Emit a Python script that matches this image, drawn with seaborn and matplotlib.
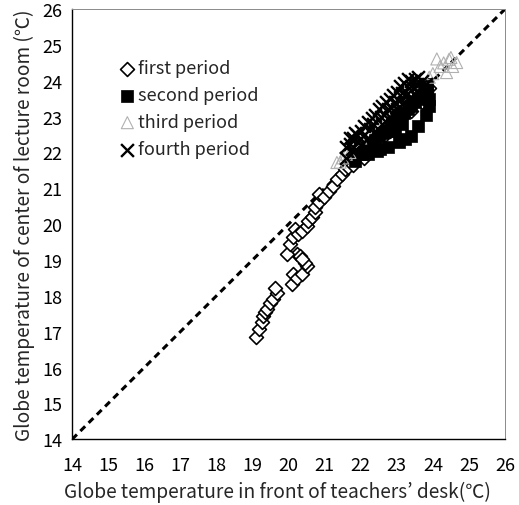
import seaborn as sns
import matplotlib.pyplot as plt

# values (deg C)
first_x = [19.10, 19.19, 19.26, 19.30, 19.35, 19.40, 19.49, 19.58, 19.67, 19.63,
           20.09, 20.13, 20.23, 20.37, 20.50, 20.46, 20.23, 20.32, 20.37, 19.95,
           20.04, 20.13, 20.18, 20.27, 20.37, 20.50, 20.55, 20.64, 20.74, 20.74,
           20.83, 20.83, 20.97, 21.11, 21.24, 21.34, 21.47, 21.57,
           21.65, 21.75, 21.80, 21.90, 22.00, 22.10, 22.20, 22.30, 22.40, 22.50,
           22.60, 22.70, 22.80, 22.90, 23.00, 23.10, 23.20, 23.30, 23.40, 23.50,
           23.60, 23.70, 23.80, 23.90]
first_y = [16.85, 17.07, 17.26, 17.44, 17.54, 17.63, 17.81, 17.91, 18.09, 18.23,
           18.33, 18.61, 18.51, 18.61, 18.84, 18.93, 19.16, 19.12, 19.02, 19.16,
           19.44, 19.63, 19.86, 19.72, 19.81, 19.95, 20.09, 20.19, 20.33, 20.47,
           20.61, 20.84, 20.75, 20.93, 21.07, 21.26, 21.40, 21.54,
           21.60, 21.75, 21.65, 21.90, 22.05, 21.85, 22.20, 22.10, 22.30, 22.50,
           22.40, 22.70, 22.60, 22.90, 23.10, 22.90, 23.20, 23.40, 23.15, 23.50,
           23.70, 23.40, 23.70, 23.80]

second_x = [21.85, 22.00, 22.10, 22.20, 22.30, 22.40, 22.50, 22.54, 22.60, 22.70,
            22.80, 22.90, 23.00, 23.10, 23.23, 23.20, 23.30, 23.40, 23.50, 23.60,
            23.70, 23.75, 23.85, 22.95, 23.15, 23.90, 23.85,
            22.20, 22.45, 22.75, 23.05, 23.40, 23.60, 23.80, 23.90]
second_y = [21.75, 21.95, 22.00, 22.15, 22.20, 22.35, 22.45, 22.09, 22.55, 22.60,
            22.75, 22.85, 22.95, 23.05, 22.37, 23.10, 23.20, 23.30, 23.40, 23.50,
            23.60, 23.85, 23.90, 22.60, 22.80, 23.50, 23.70,
            21.95, 22.05, 22.15, 22.30, 22.45, 22.75, 23.05, 23.30]

third_x = [24.11, 24.66, 24.38, 24.50, 24.20, 24.00, 24.30, 24.55, 23.90, 24.45,
           21.43, 21.50, 21.60, 21.70, 21.34, 22.00]
third_y = [24.61, 24.51, 24.23, 24.65, 24.40, 24.20, 24.50, 24.40, 24.10, 24.60,
           21.73, 21.85, 21.95, 22.00, 21.72, 22.40]

fourth_x = [21.60, 21.60, 21.70, 21.80, 21.80, 21.90, 22.00, 22.00, 22.10, 22.20,
            22.20, 22.30, 22.40, 22.40, 22.50, 22.60, 22.60, 22.70, 22.80, 22.80,
            22.90, 23.00, 23.00, 23.10, 23.20, 23.20, 23.30, 23.40, 23.40, 23.50,
            23.60, 23.60, 23.70, 23.80, 22.25, 22.65, 23.05, 23.45, 21.95,
            21.75, 22.05, 22.35, 22.55, 22.75, 22.95, 23.15, 23.35, 23.55, 23.75,
            22.85, 23.25, 21.70, 21.85]
fourth_y = [22.15, 21.85, 22.25, 22.40, 22.00, 22.50, 22.60, 22.20, 22.75, 22.85,
            22.40, 22.95, 23.05, 22.60, 23.20, 23.30, 22.80, 23.40, 23.50, 23.00,
            23.60, 23.70, 23.20, 23.85, 23.95, 23.40, 24.05, 24.00, 23.55, 24.05,
            24.10, 23.70, 24.00, 23.90, 22.65, 23.05, 23.45, 23.80, 22.35,
            22.10, 22.45, 22.80, 23.00, 23.20, 23.40, 23.65, 23.80, 23.90, 23.85,
            23.25, 23.60, 22.40, 22.55]

ticks = list(range(14, 27))

sns.set_theme(style="white")
plt.rcParams['font.family'] = ['Noto Sans CJK JP', 'DejaVu Sans']

fig, ax = plt.subplots(figsize=(5.19, 5.06), dpi=100)
fig.subplots_adjust(left=0.139, right=0.973, bottom=0.130, top=0.980)

ax.plot([14, 26], [14, 26], color="black", lw=2.2, ls=(0, (2.2, 1.6)), zorder=1)

sns.scatterplot(x=first_x, y=first_y, ax=ax, marker="D", s=50,
                facecolor="white", edgecolor="black", linewidth=1.2,
                label="first period", zorder=2)
sns.scatterplot(x=second_x, y=second_y, ax=ax, marker="s", s=65,
                color="black", edgecolor="black", linewidth=0.5,
                label="second period", zorder=3)
sns.scatterplot(x=third_x, y=third_y, ax=ax, marker="^", s=75,
                facecolor="none", edgecolor="#b0b0b0", linewidth=0.8,
                label="third period", zorder=4)
sns.scatterplot(x=fourth_x, y=fourth_y, ax=ax, marker="x", s=85,
                color="black", linewidth=1.7,
                label="fourth period", zorder=5)

ax.set_xlim(14, 26)
ax.set_ylim(14, 26)
ax.set_xticks(ticks)
ax.set_yticks(ticks)
ax.tick_params(direction="in", length=3, width=0.6, labelsize=13, colors="black")
ax.tick_params(axis="x", pad=12)
ax.tick_params(axis="y", pad=7)

ax.set_xlabel("Globe temperature in front of teachers’ desk(℃)", fontsize=13.8, labelpad=5)
ax.set_ylabel("Globe temperature of center of lecture room (℃)", fontsize=13.8, labelpad=5)
ax.xaxis.label.set_x(0.475)

for side in ["left", "bottom"]:
    ax.spines[side].set_color("black")
    ax.spines[side].set_linewidth(1.0)
for side in ["top", "right"]:
    ax.spines[side].set_color("#8a8a8a")
    ax.spines[side].set_linewidth(0.7)

ax.legend(loc="upper left", bbox_to_anchor=(0.09, 0.90), frameon=False,
          fontsize=13, handletextpad=0.1, labelspacing=0.5, handlelength=1.0,
          borderaxespad=0)

fig.savefig("out.png", dpi=100)
